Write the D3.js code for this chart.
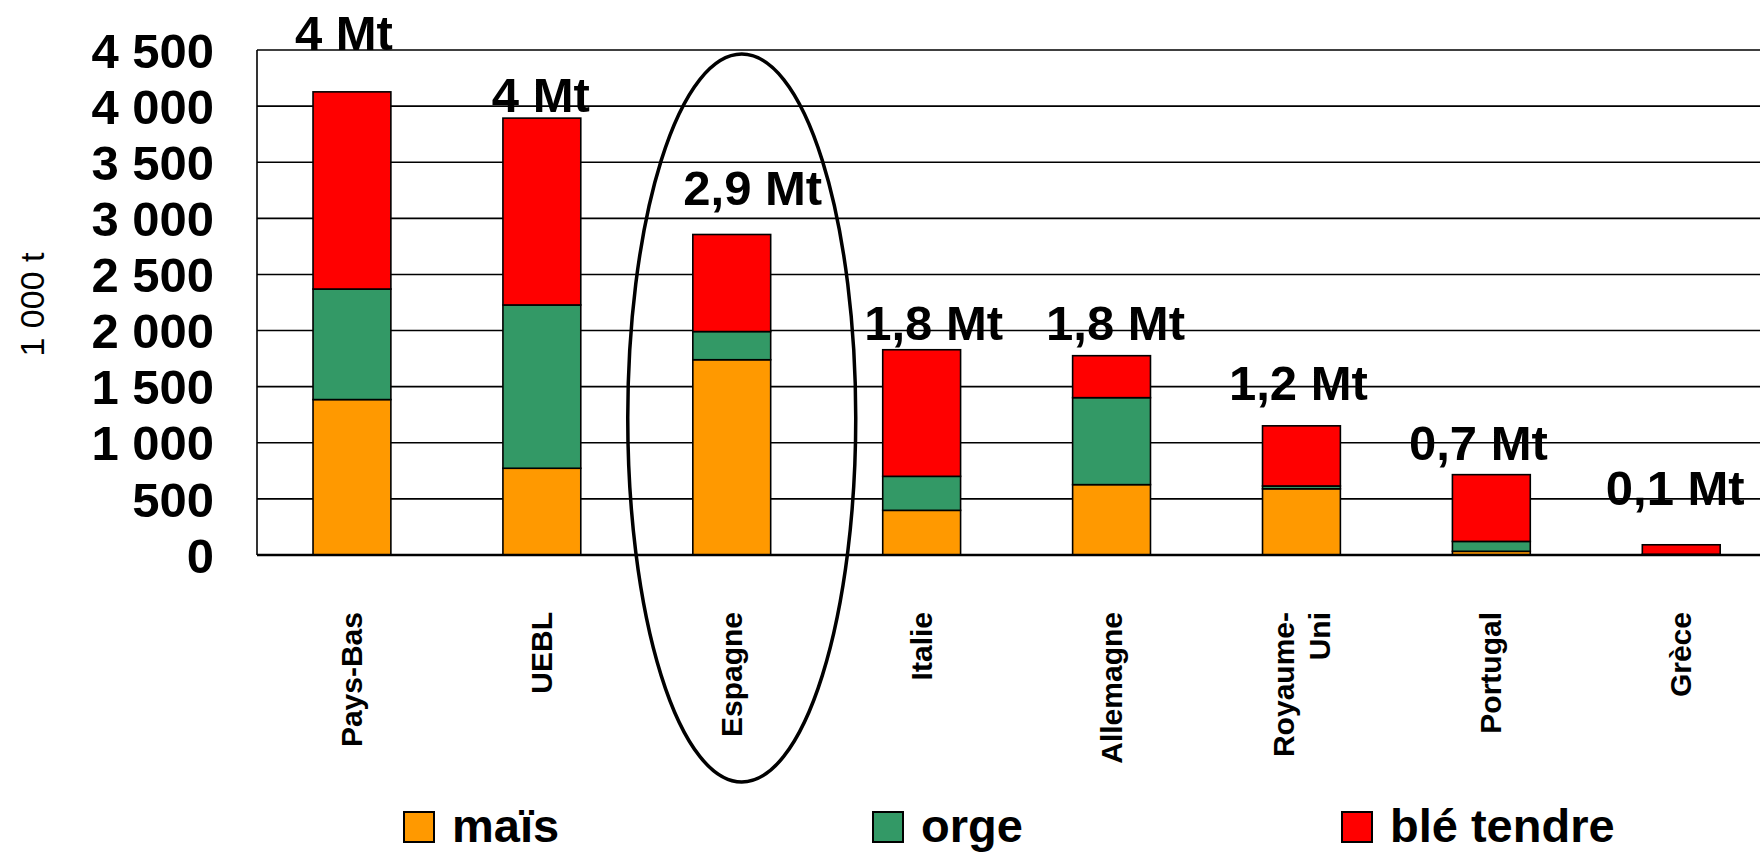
<!DOCTYPE html>
<html>
<head>
<meta charset="utf-8">
<script src="https://cdn.jsdelivr.net/npm/d3@7"></script>
<style>
  body { margin: 0; background: #fff; }
  svg { display: block; font-family: "Liberation Sans", Arial, sans-serif; }
</style>
</head>
<body>
<div id="chart"></div>
<script>
// Chart data (1 000 t)
const countries = ['Pays-Bas', 'UEBL', 'Espagne', 'Italie', 'Allemagne', 'Royaume-Uni', 'Portugal', 'Grèce']
const mais = [1385, 773, 1740, 398, 627, 590, 33, 3]
const orge = [985, 1455, 251, 303, 775, 25, 88, 3]
const bleTendre = [1757, 1665, 865, 1128, 374, 536, 595, 85]
const totalLabels = ['4 Mt', '4 Mt', '2,9 Mt', '1,8 Mt', '1,8 Mt', '1,2 Mt', '0,7 Mt', '0,1 Mt']
const seriesNames = ['maïs', 'orge', 'blé tendre']
const yTicks = [0, 500, 1000, 1500, 2000, 2500, 3000, 3500, 4000, 4500]

const colors = ['#ff9900', '#339966', '#ff0000']

// label nudges (px) - the labels were placed by hand in the original
const labelShift = [[-8, 42], [-1, 6], [21, 29], [12, 10], [4, 16], [-3, 26], [-13, 15], [-6, 40]]

var width = 1760
var height = 852
var margin = { left: 257, top: 50, bottom: 297 }

var svg = d3.select('#chart')
  .append('svg')
  .attr('width', width)
  .attr('height', height)

const rows = countries.map((c, i) => ({ country: c, 'maïs': mais[i], orge: orge[i], 'blé tendre': bleTendre[i] }))
const stack = d3.stack().keys(seriesNames)(rows)

const xScale = d3.scaleBand()
  .domain(countries)
  .range([margin.left, margin.left + 8 * 189.9])
  .paddingInner(0.59)
  .paddingOuter(0.295)

const yScale = d3.scaleLinear()
  .domain([0, 4500])
  .range([height - margin.bottom, margin.top])

// gridlines
svg.append('g')
  .selectAll('line')
  .data(yTicks.filter(d => d > 0))
  .enter()
  .append('line')
  .attr('x1', margin.left)
  .attr('x2', width)
  .attr('y1', d => yScale(d))
  .attr('y2', d => yScale(d))
  .attr('stroke', '#000')
  .attr('stroke-width', 1.6)

// y axis line + labels
svg.append('line')
  .attr('x1', margin.left).attr('x2', margin.left)
  .attr('y1', yScale(4500)).attr('y2', yScale(0))
  .attr('stroke', '#000').attr('stroke-width', 1.6)

svg.append('g')
  .selectAll('text')
  .data(yTicks)
  .enter()
  .append('text')
  .attr('x', 214)
  .attr('y', d => yScale(d))
  .attr('dy', '0.36em')
  .attr('text-anchor', 'end')
  .style('font-size', '49px')
  .style('font-weight', 'bold')
  .text(d => d3.format(',')(d).replace(',', ' '))

svg.append('text')
  .attr('transform', `translate(44, ${(yScale(0) + yScale(4500)) / 2 + 2}) rotate(-90)`)
  .attr('text-anchor', 'middle')
  .style('font-size', '34px')
  .text('1 000 t')

// bars
svg.append('g')
  .selectAll('g')
  .data(stack)
  .enter()
  .append('g')
  .attr('fill', (d, i) => colors[i])
  .selectAll('rect')
  .data(d => d)
  .enter()
  .append('rect')
  .attr('x', d => xScale(d.data.country))
  .attr('y', d => yScale(d[1]))
  .attr('width', xScale.bandwidth())
  .attr('height', d => yScale(d[0]) - yScale(d[1]))
  .attr('stroke', '#000')
  .attr('stroke-width', 1.6)

// base line
svg.append('line')
  .attr('x1', margin.left).attr('x2', width)
  .attr('y1', yScale(0)).attr('y2', yScale(0))
  .attr('stroke', '#000').attr('stroke-width', 2.5)

// total labels
const totals = countries.map((c, i) => mais[i] + orge[i] + bleTendre[i])
svg.append('g')
  .selectAll('text')
  .data(totalLabels)
  .enter()
  .append('text')
  .attr('x', (d, i) => xScale(countries[i]) + xScale.bandwidth() / 2 + labelShift[i][0])
  .attr('y', (d, i) => yScale(totals[i]) - labelShift[i][1])
  .attr('text-anchor', 'middle')
  .style('font-size', '49px')
  .style('font-weight', 'bold')
  .text(d => d)

// category labels (rotated)
const catLabels = svg.append('g')
  .selectAll('text')
  .data(countries)
  .enter()
  .append('text')
  .attr('transform', d => `translate(${xScale(d) + xScale.bandwidth() / 2 + 10}, 612) rotate(-90)`)
  .attr('text-anchor', 'end')
  .style('font-size', '30px')
  .style('font-weight', 'bold')

catLabels.each(function (d) {
  const parts = d === 'Royaume-Uni' ? ['Royaume-', 'Uni'] : [d]
  const t = d3.select(this)
  parts.forEach((p, k) => {
    t.append('tspan')
      .attr('x', 0)
      .attr('dy', k === 0 ? (parts.length > 1 ? -17 : 0) : 36)
      .text(p)
  })
})

// ellipse around Espagne
svg.append('ellipse')
  .attr('cx', xScale('Espagne') + xScale.bandwidth() / 2 + 10)
  .attr('cy', 418)
  .attr('rx', 114)
  .attr('ry', 364)
  .attr('fill', 'none')
  .attr('stroke', '#000')
  .attr('stroke-width', 3.5)

// legend
const legend = svg.append('g')
  .selectAll('g')
  .data(seriesNames)
  .enter()
  .append('g')
  .attr('transform', (d, i) => `translate(${404 + i * 469}, 812)`)

legend.append('rect')
  .attr('width', 30)
  .attr('height', 30)
  .attr('fill', (d, i) => colors[i])
  .attr('stroke', '#000')
  .attr('stroke-width', 2)

legend.append('text')
  .attr('x', 48)
  .attr('y', 30)
  .style('font-size', '47px')
  .style('font-weight', 'bold')
  .text(d => d)
</script>
</body>
</html>
